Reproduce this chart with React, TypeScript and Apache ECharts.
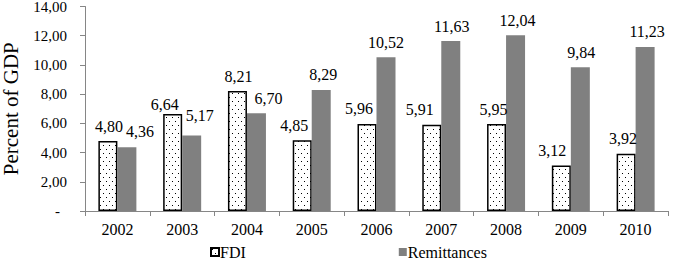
import React, { useEffect, useRef } from "react";
import * as echarts from "echarts";

const years = ["2002", "2003", "2004", "2005", "2006", "2007", "2008", "2009", "2010"];
const fdi = [4.8, 6.64, 8.21, 4.85, 5.96, 5.91, 5.95, 3.12, 3.92];
const remittances = [4.36, 5.17, 6.7, 8.29, 10.52, 11.63, 12.04, 9.84, 11.23];
const yTicks = { min: 0, max: 14, interval: 2 };

// label nudges (style only) [dx, dy]
const fdiNudge = [[1, 1], [-8, 5], [1, 0], [-8, 0], [-8, 0], [-12, 0], [-3, 0], [-9, 0], [-3, 0]];
const remNudge = [[13, -1], [8, -5], [12, 0], [2, 0], [0, 0], [1, 0], [2, 0], [1, 0], [2, 0]];

const FONT = "Liberation Serif";
const fmt = (v: number) => v.toFixed(2).replace(".", ",");

function makeDots(): HTMLCanvasElement {
  const c = document.createElement("canvas");
  c.width = 6;
  c.height = 8;
  const ctx = c.getContext("2d")!;
  ctx.fillStyle = "#ffffff";
  ctx.fillRect(0, 0, 6, 8);
  ctx.fillStyle = "#000000";
  ctx.fillRect(1, 1, 1, 1);
  ctx.fillRect(4, 5, 1, 1);
  return c;
}

export default function App() {
  const ref = useRef<HTMLDivElement>(null);
  useEffect(() => {
    if (!ref.current) return;
    const chart = echarts.init(ref.current, null, { renderer: "svg" });
    const pattern = { image: makeDots(), repeat: "repeat" } as any;
    const labelBase = {
      show: true,
      position: "top" as const,
      distance: 7,
      color: "#000",
      fontFamily: FONT,
      fontSize: 16,
      formatter: (p: any) => fmt(p.value),
    };
    chart.setOption({
      animation: false,
      backgroundColor: "#fff",
      textStyle: { fontFamily: FONT },
      grid: { left: 85, right: 5, top: 6.5, bottom: 48, containLabel: false, outerBoundsMode: "none" },
      legend: {
        data: [
          { name: "FDI", icon: "rect" },
          { name: "Remittances", icon: "rect" },
        ],
        left: 210,
        top: 244,
        padding: 0,
        itemWidth: 8,
        itemHeight: 8,
        itemGap: 153,
        textStyle: { fontFamily: FONT, fontSize: 16, color: "#000", padding: [0, 0, 0, -4] },
      },
      xAxis: {
        type: "category",
        data: years,
        boundaryGap: true,
        axisLine: { lineStyle: { color: "#868686", width: 1 } },
        axisTick: { show: true, length: 5, lineStyle: { color: "#868686" } },
        axisLabel: { color: "#000", fontSize: 16, fontFamily: FONT, margin: 10 },
      },
      yAxis: {
        type: "value",
        min: yTicks.min,
        max: yTicks.max,
        interval: yTicks.interval,
        name: "Percent of GDP",
        nameLocation: "middle",
        nameGap: 64,
        nameTextStyle: { fontSize: 21, fontFamily: FONT, color: "#000" },
        splitLine: { show: false },
        axisLine: { show: true, lineStyle: { color: "#868686", width: 1 } },
        axisTick: { show: true, length: 5, lineStyle: { color: "#868686" } },
        axisLabel: {
          color: "#000",
          fontSize: 15,
          fontFamily: FONT,
          margin: 18,
          formatter: (v: number) => (v === 0 ? "{d|-}" : fmt(v)),
          rich: { d: { fontSize: 15, fontFamily: FONT, color: "#000", padding: [0, 7, 0, 0] } },
        },
      },
      series: [
        {
          name: "FDI",
          type: "bar",
          barWidth: 19,
          barGap: "0%",
          itemStyle: { color: pattern, borderColor: "#000", borderWidth: 1.5 },
          label: labelBase,
          data: fdi.map((v, i) => ({ value: v, label: { offset: fdiNudge[i] } })),
        },
        {
          name: "Remittances",
          type: "bar",
          barWidth: 19,
          itemStyle: { color: "#808080" },
          label: labelBase,
          data: remittances.map((v, i) => ({ value: v, label: { offset: remNudge[i] } })),
        },
      ],
    });
    return () => chart.dispose();
  }, []);
  return <div ref={ref} style={{ width: 673, height: 259, position: "absolute", left: 0, top: 0 }} />;
}
